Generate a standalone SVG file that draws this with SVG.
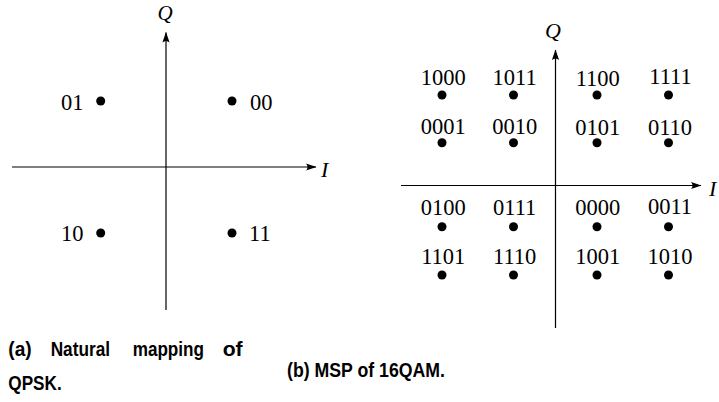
<svg xmlns="http://www.w3.org/2000/svg" width="719" height="402" viewBox="0 0 719 402">
<style>
.ax{stroke:#000;stroke-width:1.2;fill:none}
.dot{fill:#000}
.lb{font-family:"Liberation Serif","DejaVu Serif",serif;font-size:22.5px;fill:#000}
.it{font-family:"Liberation Serif","DejaVu Serif",serif;font-style:italic;font-size:22px;fill:#000}
.cap{font-family:"Liberation Sans",Arial,sans-serif;font-weight:bold;font-size:20.5px;fill:#000}
.m{text-anchor:middle}
</style>
<defs>
<marker id="arr" viewBox="-11 -5 12 10" refX="0" refY="0" markerWidth="12" markerHeight="10" markerUnits="userSpaceOnUse" orient="auto">
<path d="M0.5,0 L-10,-3.6 Q-7,0 -10,3.6 Z" fill="#000"/>
</marker>
</defs>
<rect width="719" height="402" fill="#fff"/>

<g id="connectors">
<line class="ax" x1="12" y1="167" x2="316" y2="167" marker-end="url(#arr)"/>
<line class="ax" x1="166" y1="310" x2="166" y2="32.5" marker-end="url(#arr)"/>
<line class="ax" x1="401" y1="185.5" x2="701" y2="185.5" marker-end="url(#arr)"/>
<line class="ax" x1="555.5" y1="328" x2="555.5" y2="50" marker-end="url(#arr)"/>
</g>

<g id="axis-labels-a">
<text class="it m" x="165" y="19.5" style="font-size:21px">Q</text>
<text class="it" x="321" y="177">I</text>
</g>
<g id="axis-labels-b">
<text class="it m" x="553" y="37.5">Q</text>
<text class="it" x="709" y="196">I</text>
</g>

<g id="qpsk-01"><circle class="dot" cx="100.7" cy="101" r="4.5"/><text class="lb" x="83.5" y="110" text-anchor="end">01</text></g>
<g id="qpsk-00"><circle class="dot" cx="232" cy="101" r="4.5"/><text class="lb" x="250" y="110">00</text></g>
<g id="qpsk-10"><circle class="dot" cx="100.7" cy="233" r="4.5"/><text class="lb" x="83.5" y="241" text-anchor="end">10</text></g>
<g id="qpsk-11"><circle class="dot" cx="232" cy="233" r="4.5"/><text class="lb" x="249" y="241">11</text></g>

<g id="qam-1000"><circle class="dot" cx="442" cy="95" r="4.5"/><text class="lb m" x="443.3" y="85">1000</text></g>
<g id="qam-1011"><circle class="dot" cx="513.5" cy="95" r="4.5"/><text class="lb m" x="514.7" y="85">1011</text></g>
<g id="qam-1100"><circle class="dot" cx="597" cy="95" r="4.5"/><text class="lb m" x="597.8" y="85.5">1100</text></g>
<g id="qam-1111"><circle class="dot" cx="668.5" cy="95" r="4.5"/><text class="lb m" x="670.5" y="83.5">1111</text></g>

<g id="qam-0001"><circle class="dot" cx="442" cy="142.7" r="4.5"/><text class="lb m" x="443.3" y="134">0001</text></g>
<g id="qam-0010"><circle class="dot" cx="513.5" cy="142.7" r="4.5"/><text class="lb m" x="514.7" y="134">0010</text></g>
<g id="qam-0101"><circle class="dot" cx="597" cy="142.7" r="4.5"/><text class="lb m" x="597.8" y="135">0101</text></g>
<g id="qam-0110"><circle class="dot" cx="668.5" cy="142.7" r="4.5"/><text class="lb m" x="670" y="135">0110</text></g>

<g id="qam-0100"><circle class="dot" cx="442" cy="226.7" r="4.5"/><text class="lb m" x="443.3" y="215">0100</text></g>
<g id="qam-0111"><circle class="dot" cx="513.5" cy="226.7" r="4.5"/><text class="lb m" x="514.7" y="215">0111</text></g>
<g id="qam-0000"><circle class="dot" cx="597" cy="226.7" r="4.5"/><text class="lb m" x="597.8" y="215">0000</text></g>
<g id="qam-0011"><circle class="dot" cx="668.5" cy="226.7" r="4.5"/><text class="lb m" x="670" y="214">0011</text></g>

<g id="qam-1101"><circle class="dot" cx="442" cy="275" r="4.5"/><text class="lb m" x="443.3" y="264">1101</text></g>
<g id="qam-1110"><circle class="dot" cx="513.5" cy="275" r="4.5"/><text class="lb m" x="514.7" y="264">1110</text></g>
<g id="qam-1001"><circle class="dot" cx="597" cy="275" r="4.5"/><text class="lb m" x="597.8" y="264">1001</text></g>
<g id="qam-1010"><circle class="dot" cx="668.5" cy="275" r="4.5"/><text class="lb m" x="670" y="263.5">1010</text></g>

<g id="caption-a">
<text class="cap" x="8.3" y="356" textLength="23.4" lengthAdjust="spacingAndGlyphs">(a)</text>
<text class="cap" x="50.7" y="356" textLength="59.3" lengthAdjust="spacingAndGlyphs">Natural</text>
<text class="cap" x="132.7" y="356" textLength="71.3" lengthAdjust="spacingAndGlyphs">mapping</text>
<text class="cap" x="222.7" y="356" textLength="20" lengthAdjust="spacingAndGlyphs">of</text>
<text class="cap" x="8.3" y="390" textLength="53.4" lengthAdjust="spacingAndGlyphs">QPSK.</text>
</g>
<g id="caption-b">
<text class="cap" x="287" y="377" textLength="158" lengthAdjust="spacingAndGlyphs">(b) MSP of 16QAM.</text>
</g>
</svg>
